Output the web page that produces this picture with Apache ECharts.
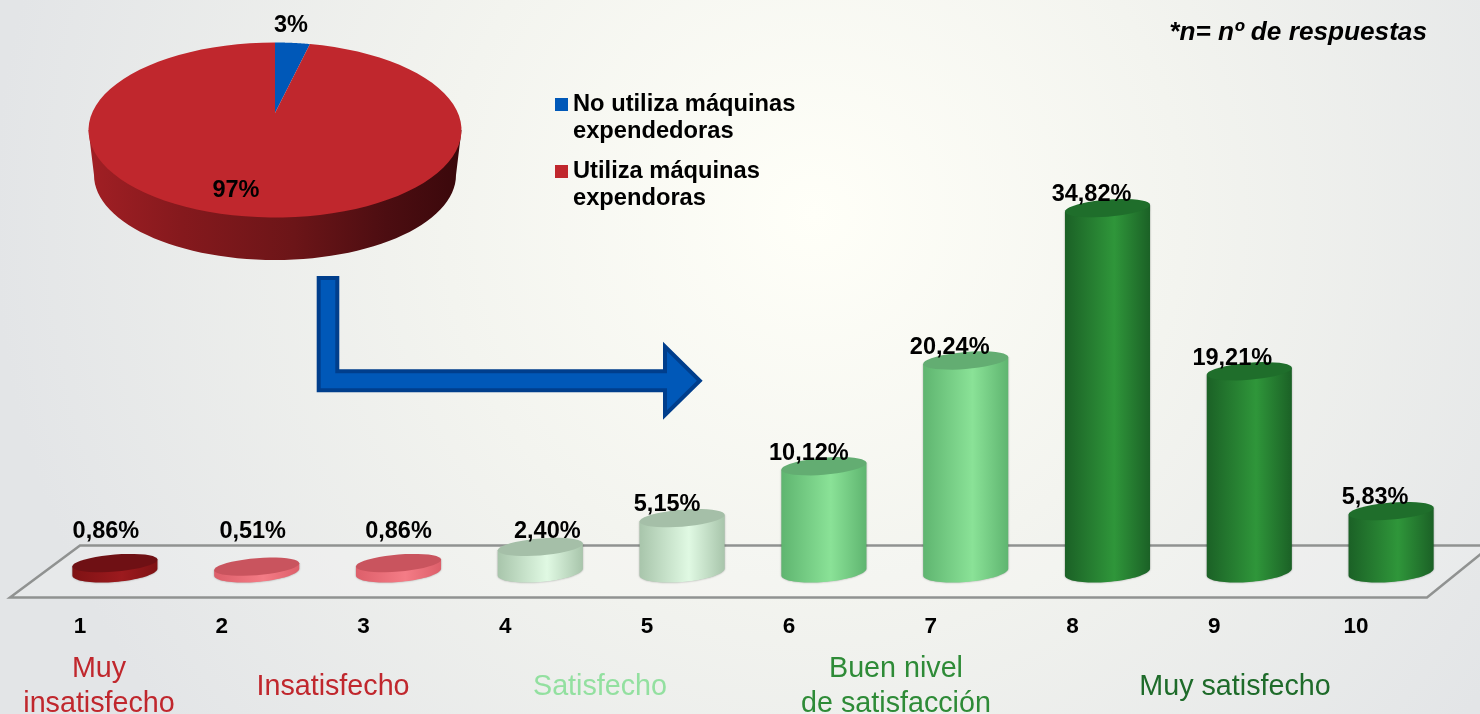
<!DOCTYPE html>
<html>
<head>
<meta charset="utf-8">
<style>
html, body { margin: 0; padding: 0; }
#chart { width: 1480px; height: 714px; }
</style>
<script src="https://cdn.jsdelivr.net/npm/echarts@6/dist/echarts.min.js"></script>
</head>
<body>
<div id="chart"></div>
<script>
// data
const categories = ['1', '2', '3', '4', '5', '6', '7', '8', '9', '10'];
const percents = [0.86, 0.51, 0.86, 2.40, 5.15, 10.12, 20.24, 34.82, 19.21, 5.83];
const percentLabels = ['0,86%', '0,51%', '0,86%', '2,40%', '5,15%', '10,12%', '20,24%', '34,82%', '19,21%', '5,83%'];
const pieNames = ['No utiliza máquinas\nexpendedoras', 'Utiliza máquinas\nexpendoras'];
const pieValues = [3, 97];
const pieLabels = ['3%', '97%'];
const footNote = '*n= nº de respuestas';
const groupNames = ['Muy\ninsatisfecho', 'Insatisfecho', 'Satisfecho', 'Buen nivel\nde satisfacción', 'Muy satisfecho'];

// layout and styling, kept apart from the data
const BOLD = 'bold 23.5px "Liberation Sans", Arial, sans-serif';
const palettes = {
    deep: { edge: '#7f1214', mid: '#9c1a1e', cap: '#6f1014' },
    pink: { edge: '#dd5f6a', mid: '#f47c86', cap: '#c9545e' },
    pale: { edge: '#a8c5ab', mid: '#e0f9e3', cap: '#a5bfa8' },
    light: { edge: '#5fb570', mid: '#8ae297', cap: '#63ad72' },
    green: { edge: '#1b6126', mid: '#2f963a', cap: '#1f6e2b' }
};
const barPalette = ['deep', 'pink', 'pink', 'pale', 'pale', 'light', 'light', 'green', 'green', 'green'];
const labelNudge = [[-9, -31], [-4, -35], [0, -31], [7, -15], [-15, -14], [-15, -13], [-16, -13], [-16, -14], [-17, -13], [-16, -14]];
const groupSpots = [[99, 686.5], [333, 687], [600, 687], [896, 686.5], [1235, 687]];
const groupColors = ['#c0272d', '#c0272d', '#93e0a0', '#2e8b37', '#1e6b2a'];
const pieTop = { cx: 275, cy: 130, rx: 186.5, ry: 87.5, apexY: 113 };
const pieFoot = { cy: 175, rx: 181, ry: 85 };
const sliceColors = ['#0058b8', '#c0272d'];
const pieLabelSpots = [[291, 26], [236, 191]];
const TILT = 0.08;

// tilted ellipse, t in radians
function tiltedEllipse(cx, cy, rx, ry, from, to) {
    const pts = [];
    for (let k = 0; k <= 40; k++) {
        const t = from + (to - from) * k / 40;
        pts.push([cx + rx * Math.cos(t), cy - TILT * rx * Math.cos(t) + ry * Math.sin(t)]);
    }
    return pts;
}

function renderBar(params, api) {
    const idx = api.value(0);
    const top = api.coord([idx, api.value(1)]);
    const base = api.coord([idx, 0]);
    const rx = api.size([1, 0])[0] * 0.3;
    const pal = palettes[barPalette[params.dataIndex]];
    const nudge = labelNudge[params.dataIndex];
    const body = tiltedEllipse(base[0], base[1], rx, 10, Math.PI, 0);
    body.push([top[0] + rx, top[1] - TILT * rx]);
    body.push([top[0] - rx, top[1] + TILT * rx]);
    return {
        type: 'group',
        children: [
            {
                type: 'polygon',
                shape: { points: body },
                style: {
                    fill: new echarts.graphic.LinearGradient(0, 0, 1, 0, [
                        { offset: 0, color: pal.edge },
                        { offset: 0.58, color: pal.mid },
                        { offset: 1, color: pal.edge }
                    ]),
                    shadowBlur: 2,
                    shadowColor: 'rgba(0,0,0,0.35)'
                }
            },
            {
                type: 'polygon',
                shape: { points: tiltedEllipse(top[0], top[1], rx, 8.5, 0, Math.PI * 2) },
                style: { fill: pal.cap }
            },
            {
                type: 'text',
                z2: 50,
                style: {
                    x: top[0] + nudge[0],
                    y: top[1] + nudge[1],
                    text: percentLabels[params.dataIndex],
                    font: BOLD,
                    fill: '#000',
                    align: 'center',
                    verticalAlign: 'middle'
                }
            }
        ]
    };
}

function renderSlice(params) {
    const i = params.dataIndex;
    const total = pieValues.reduce((a, b) => a + b, 0);
    const before = pieValues.slice(0, i).reduce((a, b) => a + b, 0);
    const from = before / total * Math.PI * 2;
    const to = (before + pieValues[i]) / total * Math.PI * 2;
    const rim = [];
    for (let k = 0; k <= 90; k++) {
        const t = from + (to - from) * k / 90;
        rim.push([pieTop.cx + pieTop.rx * Math.sin(t), pieTop.cy - pieTop.ry * Math.cos(t)]);
    }
    const children = [];
    // side wall only where the slice faces the viewer
    const wallFrom = Math.max(from, Math.PI / 2);
    const wallTo = Math.min(to, Math.PI * 1.5);
    if (wallTo > wallFrom) {
        const wall = [];
        for (let k = 0; k <= 60; k++) {
            const t = wallFrom + (wallTo - wallFrom) * k / 60;
            wall.push([pieTop.cx + pieFoot.rx * Math.sin(t), pieFoot.cy - pieFoot.ry * Math.cos(t)]);
        }
        wall.unshift([pieTop.cx + pieTop.rx, pieTop.cy]);
        wall.push([pieTop.cx - pieTop.rx, pieTop.cy]);
        children.push({
            type: 'polygon',
            shape: { points: wall },
            style: {
                fill: new echarts.graphic.LinearGradient(0, 0, 1, 0, [
                    { offset: 0, color: '#a11f24' },
                    { offset: 0.25, color: '#85191d' },
                    { offset: 0.55, color: '#6c1518' },
                    { offset: 0.8, color: '#4c0d11' },
                    { offset: 1, color: '#3a080b' }
                ])
            }
        });
    }
    children.push({
        type: 'polygon',
        shape: { points: [[pieTop.cx, pieTop.apexY]].concat(rim) },
        style: { fill: sliceColors[i] }
    });
    children.push({
        type: 'text',
        z2: 50,
        style: {
            x: pieLabelSpots[i][0],
            y: pieLabelSpots[i][1],
            text: pieLabels[i],
            font: BOLD,
            fill: '#000',
            align: 'center',
            verticalAlign: 'middle'
        }
    });
    return { type: 'group', children: children };
}

const chart = echarts.init(document.getElementById('chart'));

const decor = [
    // platform under the bars
    {
        type: 'polyline',
        shape: { points: [[1482, 545.5], [80, 545.5], [10, 597.5], [1427, 597.5], [1482, 553]] },
        style: { fill: 'rgba(255,255,255,0.15)', stroke: '#909291', lineWidth: 2.5 }
    },
    // arrow from the pie to the bars
    {
        type: 'polygon',
        shape: {
            points: [[318.7, 278], [337.3, 278], [337.3, 371.3], [665, 371.3], [665, 346.5],
                [699.8, 380.7], [665, 415], [665, 390.3], [318.7, 390.3]]
        },
        style: { fill: '#0058b8', stroke: '#003e8c', lineWidth: 4 }
    },
    {
        type: 'text',
        style: {
            x: 1427, y: 32.5, text: footNote, align: 'right', verticalAlign: 'middle', fill: '#000',
            font: 'italic bold 26.2px "Liberation Sans", Arial, sans-serif'
        }
    }
];

pieNames.forEach((name, i) => {
    const y = i === 0 ? 98 : 165;
    decor.push({ type: 'rect', shape: { x: 555, y: y, width: 13, height: 13 }, style: { fill: i === 0 ? '#0058b8' : '#c0272d' } });
    decor.push({
        type: 'text',
        style: {
            x: 573, y: i === 0 ? 91 : 158, text: name, fill: '#000', lineHeight: 27,
            font: 'bold 23.7px "Liberation Sans", Arial, sans-serif'
        }
    });
});

groupNames.forEach((name, i) => {
    decor.push({
        type: 'text',
        style: {
            x: groupSpots[i][0], y: groupSpots[i][1], text: name, fill: groupColors[i],
            align: 'center', verticalAlign: 'middle', lineHeight: 35,
            font: '28.7px "Liberation Sans", Arial, sans-serif'
        }
    });
});

const option = {
    animation: false,
    backgroundColor: new echarts.graphic.RadialGradient(0.55, 0.3, 1.15, [
        { offset: 0, color: '#fffff8' },
        { offset: 0.45, color: '#f3f4ef' },
        { offset: 1, color: '#e3e5e7' }
    ]),
    grid: { left: 44, top: 154, width: 1418, height: 418 },
    xAxis: {
        type: 'category',
        data: categories,
        axisLine: { show: false },
        axisTick: { show: false },
        axisLabel: {
            interval: 0,
            margin: 43,
            padding: [0, 70, 0, 0],
            color: '#000',
            fontWeight: 'bold',
            fontSize: 22.5,
            fontFamily: '"Liberation Sans", Arial, sans-serif'
        }
    },
    yAxis: { type: 'value', min: 0, max: 40, show: false },
    graphic: decor,
    series: [
        {
            type: 'custom',
            name: 'Satisfacción',
            renderItem: renderBar,
            encode: { x: 0, y: 1 },
            data: percents.map((v, i) => [i, v])
        },
        {
            type: 'custom',
            name: 'Uso',
            coordinateSystem: 'none',
            renderItem: renderSlice,
            data: pieValues.map((v, i) => ({ name: pieNames[i], value: [v] }))
        }
    ]
};
chart.setOption(option);
</script>
</body>
</html>
